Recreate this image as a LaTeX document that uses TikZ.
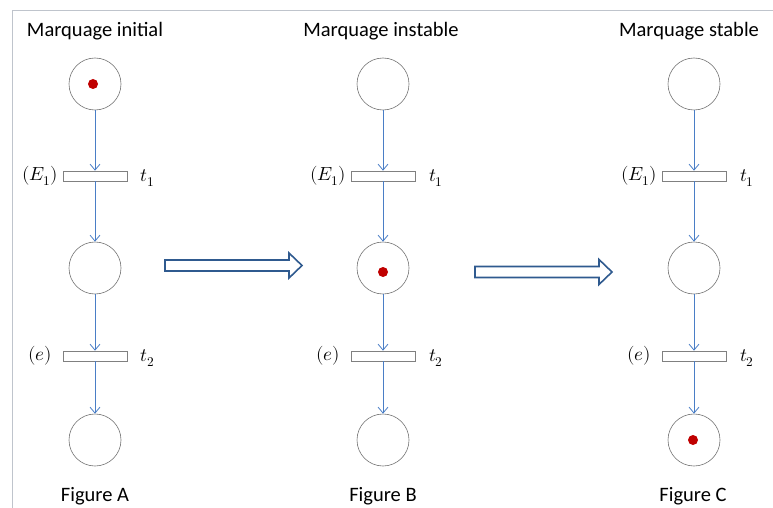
\documentclass[tikz,border=0pt]{standalone}
\usepackage{fontspec}
\usepackage{unicode-math}
\setmainfont{Carlito}
\setmathfont{Latin Modern Math}
\usetikzlibrary{arrows.meta}
\definecolor{arc}{HTML}{4A7EC6}
\definecolor{bigarr}{HTML}{2F5A8F}
\definecolor{tok}{HTML}{C00000}
\definecolor{frame}{HTML}{BFC4CC}
\tikzset{
  place/.style={circle,draw=black!55,line width=0.6pt,minimum size=52pt,inner sep=0pt},
  trans/.style={rectangle,draw=black!50,fill=white,line width=0.6pt,minimum width=64pt,minimum height=10pt,inner sep=0pt},
  token/.style={circle,fill=tok,minimum size=10pt,inner sep=0pt},
  arcarr/.style={draw=arc,line width=0.8pt,-{Straight Barb[length=6pt,width=10pt]}},
  title/.style={font=\fontsize{20.5}{22}\selectfont},
  mlab/.style={font=\fontsize{19}{21}\selectfont},
  bigarrow/.style={draw=bigarr,fill=white,line width=1.6pt,line join=miter}
}
\newcommand{\blockarrow}[2]{% #1 tail coordinate name, #2 tip coordinate name
  \draw[bigarrow] ($(#1)+(0,-5.5)$) -- ($(#2)+(-13,-5.5)$) -- ($(#2)+(-13,-12.5)$) -- (#2)
    -- ($(#2)+(-13,12.5)$) -- ($(#2)+(-13,5.5)$) -- ($(#1)+(0,5.5)$) -- cycle;}
\usetikzlibrary{calc}
\begin{document}
\begin{tikzpicture}[x=1pt,y=-1pt]
\useasboundingbox (0,0) rectangle (773,508);
\draw[frame,line width=0.8pt] (12,508) -- (12,10) -- (773,10);
% column A
\node[title] (tA) at (95,31) {Marquage initial};
\node[place] (pA1) at (95,84) {};
\node[token] (kA) at (93,84) {};
\node[trans] (tA1) at (95,176) {};
\node[place] (pA2) at (95,268) {};
\node[trans] (tA2) at (95,356) {};
\node[place] (pA3) at (95,440) {};
\node[mlab] (eA1) at (40,176) {$(E_1)$};
\node[mlab] (lA1) at (148,178) {$t_1$};
\node[mlab] (eA2) at (40,356) {$(e)$};
\node[mlab] (lA2) at (148,358) {$t_2$};
\node[title] (fA) at (95,496) {Figure A};
\draw[arcarr] (pA1) -- (tA1.north);
\draw[arcarr] (tA1.south) -- (pA2);
\draw[arcarr] (pA2) -- (tA2.north);
\draw[arcarr] (tA2.south) -- (pA3);
% column B
\node[title] (tB) at (381,31) {Marquage instable};
\node[place] (pB1) at (383,84) {};
\node[trans] (tB1) at (383,176) {};
\node[place] (pB2) at (383,268) {};
\node[token] (kB) at (383,272) {};
\node[trans] (tB2) at (383,356) {};
\node[place] (pB3) at (383,440) {};
\node[mlab] (eB1) at (328,176) {$(E_1)$};
\node[mlab] (lB1) at (436,178) {$t_1$};
\node[mlab] (eB2) at (328,356) {$(e)$};
\node[mlab] (lB2) at (436,358) {$t_2$};
\node[title] (fB) at (383,496) {Figure B};
\draw[arcarr] (pB1) -- (tB1.north);
\draw[arcarr] (tB1.south) -- (pB2);
\draw[arcarr] (pB2) -- (tB2.north);
\draw[arcarr] (tB2.south) -- (pB3);
% column C
\node[title] (tC) at (689,31) {Marquage stable};
\node[place] (pC1) at (694,84) {};
\node[trans] (tC1) at (694,176) {};
\node[place] (pC2) at (694,268) {};
\node[trans] (tC2) at (694,356) {};
\node[place] (pC3) at (694,440) {};
\node[token] (kC) at (693,440) {};
\node[mlab] (eC1) at (639,176) {$(E_1)$};
\node[mlab] (lC1) at (747,178) {$t_1$};
\node[mlab] (eC2) at (639,356) {$(e)$};
\node[mlab] (lC2) at (747,358) {$t_2$};
\node[title] (fC) at (693,496) {Figure C};
\draw[arcarr] (pC1) -- (tC1.north);
\draw[arcarr] (tC1.south) -- (pC2);
\draw[arcarr] (pC2) -- (tC2.north);
\draw[arcarr] (tC2.south) -- (pC3);
% big arrows
\coordinate (a1s) at (165,265.5);
\coordinate (a1e) at (302,265.5);
\coordinate (a2s) at (475,272);
\coordinate (a2e) at (612,272);
\blockarrow{a1s}{a1e}
\blockarrow{a2s}{a2e}
\end{tikzpicture}
\end{document}
